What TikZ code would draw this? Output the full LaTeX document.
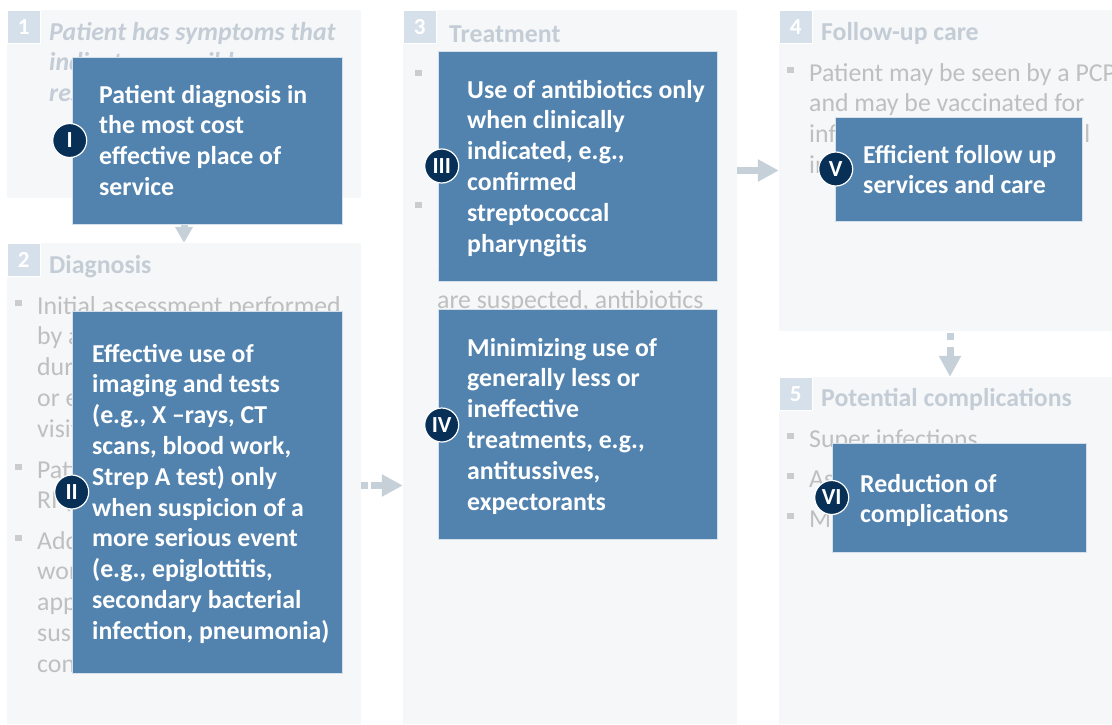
\documentclass[tikz,border=0pt]{standalone}
\usepackage{fontspec}
\setmainfont{Carlito}
\usetikzlibrary{arrows.meta}
\definecolor{panelbg}{RGB}{245,247,249}
\definecolor{numbg}{RGB}{214,224,234}
\definecolor{titlec}{RGB}{196,205,214}
\definecolor{bodyc}{RGB}{191,191,191}
\definecolor{bulc}{RGB}{204,204,204}
\definecolor{boxc}{RGB}{82,131,175}
\definecolor{navy}{RGB}{8,48,86}
\definecolor{arrc}{RGB}{197,208,217}
\newcommand\txtlines[1]{\begin{tabular}[t]{@{}l@{}}#1\end{tabular}}
\newcommand\bodysize{\fontsize{25.8}{30.8}\selectfont}
\newcommand\bitem[4]{%
  \fill[bulc] (#2-22,#3-14) rectangle (#2-15,#3-8);
  \node[ptext] (#1) at (#2,#3) {\txtlines{#4}};}
\begin{document}
\begin{tikzpicture}[x=1pt,y=-1pt,
  panel/.style={fill=panelbg, draw=none, inner sep=0pt, rectangle},
  numbox/.style={fill=numbg, draw=white, line width=0.8pt, minimum size=33pt, inner sep=0pt, text=white, font=\bfseries\fontsize{23}{26}\selectfont, anchor=north west},
  ptitle/.style={text=titlec, font=\bfseries\bodysize, anchor=base west, inner sep=0pt},
  ptext/.style={text=bodyc, font=\bodysize, anchor=base west, inner sep=0pt},
  bluebox/.style={fill=boxc, draw=white!75!boxc, line width=0.6pt, inner sep=0pt},
  btext/.style={text=white, font=\bfseries\bodysize, anchor=base west, inner sep=0pt},
  roman/.style={circle, fill=navy, draw=white, line width=1.2pt, minimum size=34pt, inner sep=0pt, text=white, font=\bfseries\fontsize{23}{26}\selectfont},
  arr/.style={draw=arrc, line width=7pt, -{Triangle[width=21pt,length=21pt]}},
]
\useasboundingbox (0,0) rectangle (1112,724);
\fill[white] (0,0) rectangle (1112,724);

% panels
\node[panel, minimum width=354pt, minimum height=188pt] (p1) at (184,104) {};
\node[panel, minimum width=354pt, minimum height=481pt] (p2) at (184,483.5) {};
\node[panel, minimum width=334pt, minimum height=714pt] (p3) at (570,367) {};
\node[panel, minimum width=333pt, minimum height=321pt] (p4) at (945.5,170.5) {};
\node[panel, minimum width=333pt, minimum height=347pt] (p5) at (945.5,550.5) {};

\node[numbox] (n1) at (p1.north west) {1};
\node[numbox] (n2) at (p2.north west) {2};
\node[numbox] (n3) at (p3.north west) {3};
\node[numbox] (n4) at (p4.north west) {4};
\node[numbox] (n5) at (p5.north west) {5};

% titles
\node[ptitle] (h1) at (49,40) {\itshape\txtlines{Patient has symptoms that\\indicate a possible upper\\respiratory infection}};
\node[ptitle] (h2) at (49,273) {Diagnosis};
\node[ptitle] (h3) at (449,42) {Treatment};
\node[ptitle] (h4) at (821,40) {Follow-up care};
\node[ptitle] (h5) at (821,406) {Potential complications};

% faded body text
\bitem{d1}{37}{314}{Initial assessment performed\\by a physician in\\during a clinic visit\\or emergency room\\visit}
\bitem{d2}{37}{478}{Patient is diagnosed\\RI (e.g., cold)}
\bitem{d3}{37}{549}{Additional tests or lab\\work may be ordered as\\appropriate if a more\\suspected serious\\condition arises}

\bitem{t1}{437}{84}{Patient may receive\\symptomatic treatment\\(e.g., rest, fluids and\\pain relievers)}
\bitem{t2}{437}{216}{If bacterial infections\\(e.g., strep throat) or\\complications (e.g., otitis)\\are suspected, antibiotics\\may be prescribed}

\bitem{f1}{809}{81}{Patient may be seen by a PCP\\and may be vaccinated for\\influenza or pneumococcal\\infection}

\bitem{c1}{809}{447}{Super infections}
\bitem{c2}{809}{487}{Asthma exacerbation}
\bitem{c3}{809}{527}{Middle ear infection}

% connectors
\draw[arr, -{Triangle[width=17pt,length=16pt]}] (p1.south) -- (p2.north);
\path ([yshift=-2pt]p2.east) coordinate (a23);
\draw[arr, dash pattern=on 7pt off 3pt on 40pt] (a23) -- (a23 -| p3.west);
\draw[arr] (p4.west -| p3.east) -- (p4.west);
\draw[arr, dash pattern=on 0pt off 2pt on 7pt off 7pt on 40pt] ([xshift=4.5pt]p4.south) -- ([xshift=4.5pt]p5.north);

% blue boxes
\node[bluebox, minimum width=270pt, minimum height=167pt] (b1) at (207,140.5) {};
\node[bluebox, minimum width=270pt, minimum height=362pt] (b2) at (207,492) {};
\node[bluebox, minimum width=279pt, minimum height=230pt] (b3) at (577.5,166) {};
\node[bluebox, minimum width=279pt, minimum height=230pt] (b4) at (577.5,424) {};
\node[bluebox, minimum width=247pt, minimum height=104pt] (b5) at (958.5,169) {};
\node[bluebox, minimum width=254pt, minimum height=109pt] (b6) at (959,497.5) {};

\node[btext] (w1) at (99,103) {\txtlines{Patient diagnosis in\\the most cost\\effective place of\\service}};
\node[btext] (w2) at (92,362) {\txtlines{Effective use of\\imaging and tests\\(e.g., X –rays, CT\\scans, blood work,\\Strep A test) only\\when suspicion of a\\more serious event\\(e.g., epiglottitis,\\secondary bacterial\\infection, pneumonia)}};
\node[btext] (w3) at (467,98) {\txtlines{Use of antibiotics only\\when clinically\\indicated, e.g.,\\confirmed\\streptococcal\\pharyngitis}};
\node[btext] (w4) at (467,356) {\txtlines{Minimizing use of\\generally less or\\ineffective\\treatments, e.g.,\\antitussives,\\expectorants}};
\node[btext] (w5) at (863,163) {\txtlines{Efficient follow up\\services and care}};
\node[btext] (w6) at (860,492) {\txtlines{Reduction of\\complications}};

% numeral circles
\node[roman] (r1) at ([xshift=-2pt]b1.west) {I};
\node[roman] (r2) at (b2.west) {II};
\node[roman] (r3) at ([xshift=4pt]b3.west) {III};
\node[roman] (r4) at ([xshift=4pt,yshift=-1pt]b4.west) {IV};
\node[roman] (r5) at ([xshift=1pt]b5.west) {V};
\node[roman] (r6) at (b6.west) {VI};
\end{tikzpicture}
\end{document}
